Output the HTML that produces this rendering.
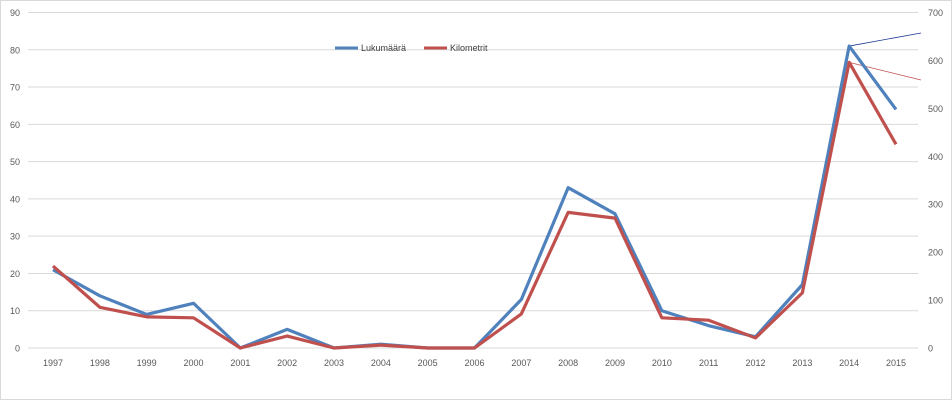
<!DOCTYPE html>
<html><head><meta charset="utf-8"><style>
body{margin:0;background:#fff}
svg{display:block;font-family:"Liberation Sans",sans-serif}
</style></head><body>
<svg id="c" width="952" height="400">
<rect x="0.5" y="0.5" width="951" height="399" fill="#fff" stroke="#d9d9d9"/>
<g id="grid"></g><g id="ax"></g><g id="ser"></g>
<g>
<line x1="335" y1="48" x2="358" y2="48" stroke="#4f81bd" stroke-width="3"/>
<text x="361" y="51" font-size="9" fill="#404040">Lukumäärä</text>
<line x1="424" y1="48" x2="447" y2="48" stroke="#c0504d" stroke-width="3"/>
<text x="450" y="51" font-size="9" fill="#404040">Kilometrit</text>
</g>
</svg>
<script>
const years=["1997","1998","1999","2000","2001","2002","2003","2004","2005","2006","2007","2008","2009","2010","2011","2012","2013","2014","2015"];
const lukumaara=[21,14,9,12,0,5,0,1,0,0,13,43,36,10,6,3,17,81,64];
const kilometrit=[171,85,65,63,0,25,0,6,0,0,71,283,271,63,58,21,115,596,425];
const leftTicks=[0,10,20,30,40,50,60,70,80,90];
const rightTicks=[0,100,200,300,400,500,600,700];
const NS="http://www.w3.org/2000/svg";
const x0=53,x1=896,yb=348,yt=12.5;
const xs=i=>x0+(x1-x0)*i/(years.length-1);
const yl=v=>yb-(yb-yt)*v/90;
const yr=v=>yb-(yb-yt)*v/700;
function mk(p,t,a){const e=document.createElementNS(NS,t);for(const k in a)e.setAttribute(k,a[k]);p.appendChild(e);return e;}
const grid=document.getElementById('grid'),ax=document.getElementById('ax'),ser=document.getElementById('ser');
leftTicks.forEach(v=>{
 const l=mk(grid,'line',{x1:28,x2:918,y1:yl(v),y2:yl(v),stroke:'#d9d9d9','stroke-width':1});
 
 
 const t=mk(ax,'text',{x:20,y:yl(v)+3.5,'font-size':9,fill:'#595959','text-anchor':'end'});
 t.textContent=v;
 
 
});
rightTicks.forEach(v=>{
 const t=mk(ax,'text',{x:928,y:yr(v)+3.5,'font-size':9,fill:'#595959'});
 t.textContent=v;
 
 
});
years.forEach((y,i)=>{
 const t=mk(ax,'text',{x:xs(i),y:366,'font-size':9,fill:'#595959','text-anchor':'middle'});
 t.textContent=y;
 
 
});
// trend lines from last-but-one point
const n=years.length;
const tb=mk(ser,'line',{x1:xs(n-2),y1:yl(lukumaara[n-2]),x2:921,y2:33,stroke:'#1f3a93','stroke-width':0.8});


const tr=mk(ser,'line',{x1:xs(n-2),y1:yr(kilometrit[n-2]),x2:921,y2:80,stroke:'#c0504d','stroke-width':0.8});


const pb=mk(ser,'polyline',{points:lukumaara.map((v,i)=>xs(i)+','+yl(v)).join(' '),fill:'none',stroke:'#4f81bd','stroke-width':3.2,'stroke-linejoin':'round'});


const pr=mk(ser,'polyline',{points:kilometrit.map((v,i)=>xs(i)+','+yr(v)).join(' '),fill:'none',stroke:'#c0504d','stroke-width':3.2,'stroke-linejoin':'round'});


</script>
</body></html>
